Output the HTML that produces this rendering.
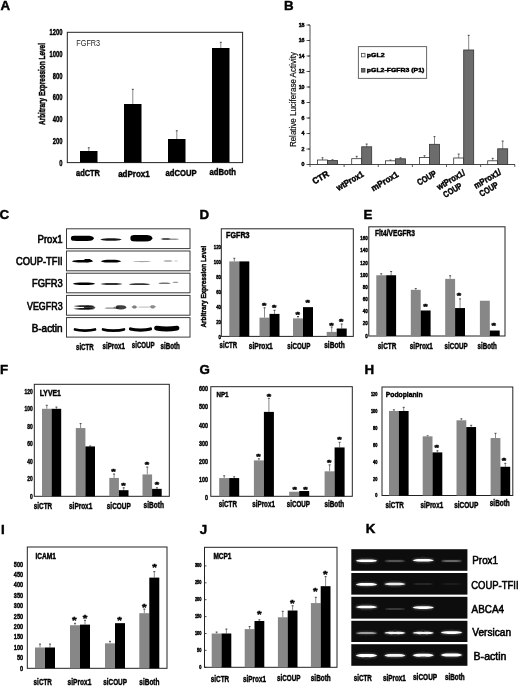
<!DOCTYPE html>
<html><head><meta charset="utf-8"><title>Figure</title>
<style>
html,body{margin:0;padding:0;background:#fff;}
svg{display:block;font-family:"Liberation Sans", sans-serif;}
</style></head>
<body>
<svg width="520" height="690" viewBox="0 0 520 690">
<defs>
<filter id="b1" filterUnits="userSpaceOnUse" x="0" y="0" width="520" height="690"><feGaussianBlur stdDeviation="0.55"/></filter>
<filter id="b2" filterUnits="userSpaceOnUse" x="0" y="0" width="520" height="690"><feGaussianBlur stdDeviation="0.5"/></filter>
<filter id="soft" filterUnits="userSpaceOnUse" x="0" y="0" width="520" height="690"><feGaussianBlur stdDeviation="0.35"/></filter>
<filter id="b3" filterUnits="userSpaceOnUse" x="0" y="0" width="520" height="690"><feGaussianBlur stdDeviation="1.1"/></filter>
</defs>
<rect width="520" height="690" fill="#fff"/>
<g filter="url(#soft)">
<text x="0.40" y="9.60" font-size="13.3" font-weight="bold" stroke="#000" stroke-width="0.45">A</text>
<text x="284.00" y="9.60" font-size="13.3" font-weight="bold" stroke="#000" stroke-width="0.45">B</text>
<text x="-0.60" y="219.20" font-size="13.3" font-weight="bold" stroke="#000" stroke-width="0.45">C</text>
<text x="199.50" y="219.20" font-size="13.3" font-weight="bold" stroke="#000" stroke-width="0.45">D</text>
<text x="363.50" y="219.20" font-size="13.3" font-weight="bold" stroke="#000" stroke-width="0.45">E</text>
<text x="0.00" y="373.80" font-size="13.3" font-weight="bold" stroke="#000" stroke-width="0.45">F</text>
<text x="199.60" y="373.80" font-size="13.3" font-weight="bold" stroke="#000" stroke-width="0.45">G</text>
<text x="364.60" y="373.60" font-size="13.3" font-weight="bold" stroke="#000" stroke-width="0.45">H</text>
<text x="1.00" y="533.70" font-size="13.3" font-weight="bold" stroke="#000" stroke-width="0.45">I</text>
<text x="199.70" y="533.50" font-size="13.3" font-weight="bold" stroke="#000" stroke-width="0.45">J</text>
<text x="365.70" y="533.30" font-size="13.3" font-weight="bold" stroke="#000" stroke-width="0.45">K</text>
<rect x="67.30" y="32.30" width="175.30" height="130.30" fill="none" stroke="#222" stroke-width="1"/>
<text x="62.40" y="165.59" font-size="9.13" font-weight="bold" stroke="#000" stroke-width="0.45" textLength="3.22" lengthAdjust="spacingAndGlyphs" text-anchor="end">0</text>
<text x="62.40" y="143.84" font-size="9.13" font-weight="bold" stroke="#000" stroke-width="0.45" textLength="9.66" lengthAdjust="spacingAndGlyphs" text-anchor="end">200</text>
<text x="62.40" y="122.09" font-size="9.13" font-weight="bold" stroke="#000" stroke-width="0.45" textLength="9.66" lengthAdjust="spacingAndGlyphs" text-anchor="end">400</text>
<text x="62.40" y="100.34" font-size="9.13" font-weight="bold" stroke="#000" stroke-width="0.45" textLength="9.66" lengthAdjust="spacingAndGlyphs" text-anchor="end">600</text>
<text x="62.40" y="78.59" font-size="9.13" font-weight="bold" stroke="#000" stroke-width="0.45" textLength="9.66" lengthAdjust="spacingAndGlyphs" text-anchor="end">800</text>
<text x="62.40" y="56.84" font-size="9.13" font-weight="bold" stroke="#000" stroke-width="0.45" textLength="12.88" lengthAdjust="spacingAndGlyphs" text-anchor="end">1000</text>
<text x="62.40" y="35.09" font-size="9.13" font-weight="bold" stroke="#000" stroke-width="0.45" textLength="12.88" lengthAdjust="spacingAndGlyphs" text-anchor="end">1200</text>
<text x="76.30" y="46.30" font-size="9.68" textLength="23.80" lengthAdjust="spacingAndGlyphs" fill="#222">FGFR3</text>
<text x="44.90" y="84.00" font-size="8.14" font-weight="bold" stroke="#000" stroke-width="0.45" textLength="82.00" lengthAdjust="spacingAndGlyphs" text-anchor="middle" transform="rotate(-90 44.90 84.00)">Arbitrary Expression Level</text>
<rect x="80.00" y="151.00" width="17.50" height="11.50" fill="#000"/>
<line x1="88.80" y1="147.50" x2="88.80" y2="151.00" stroke="#7c7c7c" stroke-width="0.9"/>
<line x1="87.80" y1="147.80" x2="89.80" y2="147.80" stroke="#444" stroke-width="0.9"/>
<rect x="124.00" y="104.00" width="17.50" height="58.50" fill="#000"/>
<line x1="132.80" y1="89.00" x2="132.80" y2="104.00" stroke="#7c7c7c" stroke-width="0.9"/>
<line x1="131.80" y1="89.30" x2="133.80" y2="89.30" stroke="#444" stroke-width="0.9"/>
<rect x="168.00" y="139.00" width="17.50" height="23.50" fill="#000"/>
<line x1="176.80" y1="130.50" x2="176.80" y2="139.00" stroke="#7c7c7c" stroke-width="0.9"/>
<line x1="175.80" y1="130.80" x2="177.80" y2="130.80" stroke="#444" stroke-width="0.9"/>
<rect x="212.00" y="48.00" width="17.50" height="114.50" fill="#000"/>
<line x1="220.80" y1="42.00" x2="220.80" y2="48.00" stroke="#7c7c7c" stroke-width="0.9"/>
<line x1="219.80" y1="42.30" x2="221.80" y2="42.30" stroke="#444" stroke-width="0.9"/>
<text x="76.00" y="176.00" font-size="9.46" font-weight="bold" stroke="#000" stroke-width="0.45" textLength="24.00" lengthAdjust="spacingAndGlyphs">adCTR</text>
<text x="118.20" y="177.00" font-size="9.46" font-weight="bold" stroke="#000" stroke-width="0.45" textLength="31.40" lengthAdjust="spacingAndGlyphs">adProx1</text>
<text x="165.50" y="176.00" font-size="9.46" font-weight="bold" stroke="#000" stroke-width="0.45" textLength="31.00" lengthAdjust="spacingAndGlyphs">adCOUP</text>
<text x="209.50" y="174.50" font-size="9.46" font-weight="bold" stroke="#000" stroke-width="0.45" textLength="26.50" lengthAdjust="spacingAndGlyphs">adBoth</text>
<line x1="310.00" y1="25.00" x2="310.00" y2="164.50" stroke="#4a4a4a" stroke-width="1"/>
<line x1="310.00" y1="164.50" x2="515.00" y2="164.50" stroke="#4a4a4a" stroke-width="1"/>
<line x1="308.00" y1="164.50" x2="310.00" y2="164.50" stroke="#333" stroke-width="0.8"/>
<text x="304.50" y="166.40" font-size="5.28" font-weight="bold" stroke="#000" stroke-width="0.45" text-anchor="end" fill="#222">0</text>
<line x1="306.50" y1="164.50" x2="310.00" y2="164.50" stroke="#333" stroke-width="0.8"/>
<line x1="308.00" y1="149.00" x2="310.00" y2="149.00" stroke="#333" stroke-width="0.8"/>
<text x="304.50" y="150.90" font-size="5.28" font-weight="bold" stroke="#000" stroke-width="0.45" text-anchor="end" fill="#222">2</text>
<line x1="306.50" y1="149.00" x2="310.00" y2="149.00" stroke="#333" stroke-width="0.8"/>
<line x1="308.00" y1="133.50" x2="310.00" y2="133.50" stroke="#333" stroke-width="0.8"/>
<text x="304.50" y="135.40" font-size="5.28" font-weight="bold" stroke="#000" stroke-width="0.45" text-anchor="end" fill="#222">4</text>
<line x1="306.50" y1="133.50" x2="310.00" y2="133.50" stroke="#333" stroke-width="0.8"/>
<line x1="308.00" y1="118.00" x2="310.00" y2="118.00" stroke="#333" stroke-width="0.8"/>
<text x="304.50" y="119.90" font-size="5.28" font-weight="bold" stroke="#000" stroke-width="0.45" text-anchor="end" fill="#222">6</text>
<line x1="306.50" y1="118.00" x2="310.00" y2="118.00" stroke="#333" stroke-width="0.8"/>
<line x1="308.00" y1="102.50" x2="310.00" y2="102.50" stroke="#333" stroke-width="0.8"/>
<text x="304.50" y="104.40" font-size="5.28" font-weight="bold" stroke="#000" stroke-width="0.45" text-anchor="end" fill="#222">8</text>
<line x1="306.50" y1="102.50" x2="310.00" y2="102.50" stroke="#333" stroke-width="0.8"/>
<line x1="308.00" y1="87.00" x2="310.00" y2="87.00" stroke="#333" stroke-width="0.8"/>
<text x="304.50" y="88.90" font-size="5.28" font-weight="bold" stroke="#000" stroke-width="0.45" text-anchor="end" fill="#222">10</text>
<line x1="306.50" y1="87.00" x2="310.00" y2="87.00" stroke="#333" stroke-width="0.8"/>
<line x1="308.00" y1="71.50" x2="310.00" y2="71.50" stroke="#333" stroke-width="0.8"/>
<text x="304.50" y="73.40" font-size="5.28" font-weight="bold" stroke="#000" stroke-width="0.45" text-anchor="end" fill="#222">12</text>
<line x1="306.50" y1="71.50" x2="310.00" y2="71.50" stroke="#333" stroke-width="0.8"/>
<line x1="308.00" y1="56.00" x2="310.00" y2="56.00" stroke="#333" stroke-width="0.8"/>
<text x="304.50" y="57.90" font-size="5.28" font-weight="bold" stroke="#000" stroke-width="0.45" text-anchor="end" fill="#222">14</text>
<line x1="306.50" y1="56.00" x2="310.00" y2="56.00" stroke="#333" stroke-width="0.8"/>
<line x1="308.00" y1="40.50" x2="310.00" y2="40.50" stroke="#333" stroke-width="0.8"/>
<text x="304.50" y="42.40" font-size="5.28" font-weight="bold" stroke="#000" stroke-width="0.45" text-anchor="end" fill="#222">16</text>
<line x1="306.50" y1="40.50" x2="310.00" y2="40.50" stroke="#333" stroke-width="0.8"/>
<line x1="308.00" y1="25.00" x2="310.00" y2="25.00" stroke="#333" stroke-width="0.8"/>
<text x="304.50" y="26.90" font-size="5.28" font-weight="bold" stroke="#000" stroke-width="0.45" text-anchor="end" fill="#222">18</text>
<line x1="306.50" y1="25.00" x2="310.00" y2="25.00" stroke="#333" stroke-width="0.8"/>
<line x1="310.00" y1="164.50" x2="310.00" y2="167.00" stroke="#333" stroke-width="0.8"/>
<line x1="344.13" y1="164.50" x2="344.13" y2="167.00" stroke="#333" stroke-width="0.8"/>
<line x1="378.26" y1="164.50" x2="378.26" y2="167.00" stroke="#333" stroke-width="0.8"/>
<line x1="412.39" y1="164.50" x2="412.39" y2="167.00" stroke="#333" stroke-width="0.8"/>
<line x1="446.52" y1="164.50" x2="446.52" y2="167.00" stroke="#333" stroke-width="0.8"/>
<line x1="480.65" y1="164.50" x2="480.65" y2="167.00" stroke="#333" stroke-width="0.8"/>
<line x1="514.78" y1="164.50" x2="514.78" y2="167.00" stroke="#333" stroke-width="0.8"/>
<text x="295.60" y="99.60" font-size="8.14" textLength="95.00" lengthAdjust="spacingAndGlyphs" text-anchor="middle" transform="rotate(-90 295.60 99.60)" fill="#111" stroke="#111" stroke-width="0.2">Relative Luciferase Activity</text>
<rect x="358.40" y="46.60" width="68.20" height="31.80" fill="#fff" stroke="#666" stroke-width="1"/>
<rect x="361.40" y="53.30" width="3.60" height="3.60" fill="#fff" stroke="#333" stroke-width="0.7"/>
<text x="366.80" y="57.20" font-size="6.16" font-weight="bold" stroke="#000" stroke-width="0.45" textLength="17.80" lengthAdjust="spacingAndGlyphs">pGL2</text>
<rect x="361.40" y="68.50" width="3.60" height="3.60" fill="#6c6c6c" stroke="#333" stroke-width="0.7"/>
<text x="366.80" y="72.40" font-size="6.16" font-weight="bold" stroke="#000" stroke-width="0.45" textLength="57.50" lengthAdjust="spacingAndGlyphs">pGL2-FGFR3 (P1)</text>
<line x1="322.50" y1="157.50" x2="322.50" y2="160.00" stroke="#7c7c7c" stroke-width="0.9"/>
<line x1="321.50" y1="157.80" x2="323.50" y2="157.80" stroke="#444" stroke-width="0.9"/>
<line x1="332.50" y1="159.50" x2="332.50" y2="160.50" stroke="#7c7c7c" stroke-width="0.9"/>
<line x1="331.50" y1="159.80" x2="333.50" y2="159.80" stroke="#444" stroke-width="0.9"/>
<rect x="317.50" y="160.00" width="10.00" height="4.50" fill="#fff" stroke="#333" stroke-width="0.8"/>
<rect x="327.50" y="160.50" width="10.00" height="4.00" fill="#6c6c6c" stroke="#333" stroke-width="0.8"/>
<line x1="356.70" y1="156.00" x2="356.70" y2="158.70" stroke="#7c7c7c" stroke-width="0.9"/>
<line x1="355.70" y1="156.30" x2="357.70" y2="156.30" stroke="#444" stroke-width="0.9"/>
<line x1="366.70" y1="143.80" x2="366.70" y2="146.80" stroke="#7c7c7c" stroke-width="0.9"/>
<line x1="365.70" y1="144.10" x2="367.70" y2="144.10" stroke="#444" stroke-width="0.9"/>
<rect x="351.70" y="158.70" width="10.00" height="5.80" fill="#fff" stroke="#333" stroke-width="0.8"/>
<rect x="361.70" y="146.80" width="10.00" height="17.70" fill="#6c6c6c" stroke="#333" stroke-width="0.8"/>
<line x1="390.50" y1="159.80" x2="390.50" y2="160.80" stroke="#7c7c7c" stroke-width="0.9"/>
<line x1="389.50" y1="160.10" x2="391.50" y2="160.10" stroke="#444" stroke-width="0.9"/>
<line x1="400.50" y1="157.50" x2="400.50" y2="158.80" stroke="#7c7c7c" stroke-width="0.9"/>
<line x1="399.50" y1="157.80" x2="401.50" y2="157.80" stroke="#444" stroke-width="0.9"/>
<rect x="385.50" y="160.80" width="10.00" height="3.70" fill="#fff" stroke="#333" stroke-width="0.8"/>
<rect x="395.50" y="158.80" width="10.00" height="5.70" fill="#6c6c6c" stroke="#333" stroke-width="0.8"/>
<line x1="424.50" y1="155.50" x2="424.50" y2="157.50" stroke="#7c7c7c" stroke-width="0.9"/>
<line x1="423.50" y1="155.80" x2="425.50" y2="155.80" stroke="#444" stroke-width="0.9"/>
<line x1="434.50" y1="136.30" x2="434.50" y2="144.30" stroke="#7c7c7c" stroke-width="0.9"/>
<line x1="433.50" y1="136.60" x2="435.50" y2="136.60" stroke="#444" stroke-width="0.9"/>
<rect x="419.50" y="157.50" width="10.00" height="7.00" fill="#fff" stroke="#333" stroke-width="0.8"/>
<rect x="429.50" y="144.30" width="10.00" height="20.20" fill="#6c6c6c" stroke="#333" stroke-width="0.8"/>
<line x1="458.70" y1="153.80" x2="458.70" y2="158.00" stroke="#7c7c7c" stroke-width="0.9"/>
<line x1="457.70" y1="154.10" x2="459.70" y2="154.10" stroke="#444" stroke-width="0.9"/>
<line x1="468.70" y1="35.00" x2="468.70" y2="50.00" stroke="#7c7c7c" stroke-width="0.9"/>
<line x1="467.70" y1="35.30" x2="469.70" y2="35.30" stroke="#444" stroke-width="0.9"/>
<rect x="453.70" y="158.00" width="10.00" height="6.50" fill="#fff" stroke="#333" stroke-width="0.8"/>
<rect x="463.70" y="50.00" width="10.00" height="114.50" fill="#6c6c6c" stroke="#333" stroke-width="0.8"/>
<line x1="492.70" y1="158.00" x2="492.70" y2="160.80" stroke="#7c7c7c" stroke-width="0.9"/>
<line x1="491.70" y1="158.30" x2="493.70" y2="158.30" stroke="#444" stroke-width="0.9"/>
<line x1="502.70" y1="140.80" x2="502.70" y2="148.80" stroke="#7c7c7c" stroke-width="0.9"/>
<line x1="501.70" y1="141.10" x2="503.70" y2="141.10" stroke="#444" stroke-width="0.9"/>
<rect x="487.70" y="160.80" width="10.00" height="3.70" fill="#fff" stroke="#333" stroke-width="0.8"/>
<rect x="497.70" y="148.80" width="10.00" height="15.70" fill="#6c6c6c" stroke="#333" stroke-width="0.8"/>
<text x="329.60" y="175.60" font-size="8.8" font-weight="bold" stroke="#000" stroke-width="0.45" textLength="17.60" lengthAdjust="spacingAndGlyphs" text-anchor="end" transform="rotate(-30.5 329.60 175.60)">CTR</text>
<text x="364.40" y="175.80" font-size="8.8" font-weight="bold" stroke="#000" stroke-width="0.45" textLength="30.00" lengthAdjust="spacingAndGlyphs" text-anchor="end" transform="rotate(-30.5 364.40 175.80)">wtProx1</text>
<text x="399.20" y="176.20" font-size="8.8" font-weight="bold" stroke="#000" stroke-width="0.45" textLength="30.00" lengthAdjust="spacingAndGlyphs" text-anchor="end" transform="rotate(-30.5 399.20 176.20)">mProx1</text>
<text x="437.30" y="175.20" font-size="8.8" font-weight="bold" stroke="#000" stroke-width="0.45" textLength="21.00" lengthAdjust="spacingAndGlyphs" text-anchor="end" transform="rotate(-30.5 437.30 175.20)">COUP</text>
<text x="465.70" y="174.50" font-size="8.8" font-weight="bold" stroke="#000" stroke-width="0.45" textLength="31.00" lengthAdjust="spacingAndGlyphs" text-anchor="end" transform="rotate(-30.5 465.70 174.50)">wtProx1/</text>
<text x="462.90" y="187.50" font-size="8.8" font-weight="bold" stroke="#000" stroke-width="0.45" textLength="20.50" lengthAdjust="spacingAndGlyphs" text-anchor="end" transform="rotate(-30.5 462.90 187.50)">COUP</text>
<text x="501.90" y="173.70" font-size="8.8" font-weight="bold" stroke="#000" stroke-width="0.45" textLength="30.00" lengthAdjust="spacingAndGlyphs" text-anchor="end" transform="rotate(-30.5 501.90 173.70)">mProx1/</text>
<text x="499.20" y="186.60" font-size="8.8" font-weight="bold" stroke="#000" stroke-width="0.45" textLength="20.50" lengthAdjust="spacingAndGlyphs" text-anchor="end" transform="rotate(-30.5 499.20 186.60)">COUP</text>
<rect x="66.50" y="228.80" width="123.50" height="19.80" fill="#fff" stroke="#3a3a3a" stroke-width="1"/>
<rect x="66.50" y="251.00" width="123.50" height="19.80" fill="#fff" stroke="#3a3a3a" stroke-width="1"/>
<rect x="66.50" y="273.20" width="123.50" height="19.60" fill="#fff" stroke="#3a3a3a" stroke-width="1"/>
<rect x="66.50" y="295.40" width="123.50" height="19.80" fill="#fff" stroke="#3a3a3a" stroke-width="1"/>
<rect x="66.50" y="317.60" width="123.50" height="19.50" fill="#fff" stroke="#3a3a3a" stroke-width="1"/>
<text x="37.50" y="242.50" font-size="10.3" textLength="25.10" lengthAdjust="spacingAndGlyphs" stroke="#000" stroke-width="0.6">Prox1</text>
<text x="16.00" y="264.50" font-size="10.3" textLength="46.60" lengthAdjust="spacingAndGlyphs" stroke="#000" stroke-width="0.6">COUP-TFII</text>
<text x="32.00" y="287.00" font-size="10.3" textLength="30.60" lengthAdjust="spacingAndGlyphs" stroke="#000" stroke-width="0.6">FGFR3</text>
<text x="27.00" y="309.80" font-size="10.3" textLength="35.60" lengthAdjust="spacingAndGlyphs" stroke="#000" stroke-width="0.6">VEGFR3</text>
<text x="31.70" y="332.30" font-size="10.3" textLength="30.90" lengthAdjust="spacingAndGlyphs" stroke="#000" stroke-width="0.6">B-actin</text>
<path d="M70.9 238.3 C70.9 235.7 72.5 235.7 76.1 235.7 L87.9 235.7 C92.1 235.7 93.1 236.7 94.1 238.3 C93.1 239.9 92.1 240.9 87.9 240.9 L76.1 240.9 C72.5 240.9 70.9 240.9 70.9 238.3Z" fill="#000" opacity="1" filter="url(#b1)"/>
<path d="M100.2 239.6 C103.5 238.2 108.0 238.3 111.0 238.3 C114.0 238.3 118.5 238.2 121.8 239.6 C118.5 241.0 114.0 240.8 111.0 240.8 C108.0 240.8 103.5 241.0 100.2 239.6Z" fill="#000" opacity="0.9" filter="url(#b1)"/>
<path d="M130.4 238.2 C130.4 235.1 132.3 235.1 136.6 235.1 L145.4 235.1 C150.4 235.1 151.6 236.3 152.6 238.2 C151.6 240.1 150.4 241.3 145.4 241.3 L136.6 241.3 C132.3 241.3 130.4 241.3 130.4 238.2Z" fill="#000" opacity="1" filter="url(#b1)"/>
<path d="M130.8 240.2 C134.0 238.8 138.0 238.9 141.0 238.9 C144.0 238.9 148.0 238.8 151.2 240.2 C148.0 241.6 144.0 241.4 141.0 241.4 C138.0 241.4 134.0 241.6 130.8 240.2Z" fill="#000" opacity="0.6" filter="url(#b1)"/>
<path d="M160.5 239.0 C163.5 237.8 162.8 238.0 165.8 238.0 C168.8 238.0 168.0 237.8 171.0 239.0 C168.0 240.2 168.8 240.0 165.8 240.0 C162.8 240.0 163.5 240.2 160.5 239.0Z" fill="#000" opacity="0.65" filter="url(#b1)"/>
<path d="M167.3 239.2 C170.0 238.4 170.2 238.5 173.2 238.5 C176.2 238.5 176.5 238.4 179.2 239.2 C176.5 240.0 176.2 239.9 173.2 239.9 C170.2 239.9 170.0 240.0 167.3 239.2Z" fill="#000" opacity="0.4" filter="url(#b1)"/>
<path d="M71.7 261.3 C75.0 259.8 79.5 260.0 82.5 260.0 C85.5 260.0 90.0 259.8 93.3 261.3 C90.0 262.8 85.5 262.6 82.5 262.6 C79.5 262.6 75.0 262.8 71.7 261.3Z" fill="#000" opacity="1" filter="url(#b1)"/>
<path d="M82.4 260.6 C86.0 258.8 84.5 259.0 87.5 259.0 C90.5 259.0 89.0 258.8 92.6 260.6 C89.0 262.4 90.5 262.2 87.5 262.2 C84.5 262.2 86.0 262.4 82.4 260.6Z" fill="#000" opacity="1" filter="url(#b1)"/>
<path d="M100.6 261.2 C104.0 259.6 108.0 259.8 111.0 259.8 C114.0 259.8 118.0 259.6 121.4 261.2 C118.0 262.8 114.0 262.6 111.0 262.6 C108.0 262.6 104.0 262.8 100.6 261.2Z" fill="#000" opacity="1" filter="url(#b1)"/>
<path d="M132.4 261.6 C135.0 261.0 139.0 261.1 142.0 261.1 C145.0 261.1 149.0 261.0 151.6 261.6 C149.0 262.2 145.0 262.2 142.0 262.2 C139.0 262.2 135.0 262.2 132.4 261.6Z" fill="#000" opacity="0.35" filter="url(#b1)"/>
<path d="M163.2 261.0 C166.0 260.1 165.0 260.2 168.0 260.2 C171.0 260.2 170.0 260.1 172.8 261.0 C170.0 261.9 171.0 261.8 168.0 261.8 C165.0 261.8 166.0 261.9 163.2 261.0Z" fill="#000" opacity="0.35" filter="url(#b1)"/>
<path d="M173.5 261.0 C176.0 260.4 173.0 260.5 176.0 260.5 C179.0 260.5 176.0 260.4 178.5 261.0 C176.0 261.6 179.0 261.5 176.0 261.5 C173.0 261.5 176.0 261.6 173.5 261.0Z" fill="#000" opacity="0.2" filter="url(#b1)"/>
<path d="M72.7 283.8 C76.0 282.3 81.0 282.5 84.0 282.5 C87.0 282.5 92.0 282.3 95.3 283.8 C92.0 285.3 87.0 285.1 84.0 285.1 C81.0 285.1 76.0 285.3 72.7 283.8Z" fill="#000" opacity="1" filter="url(#b1)"/>
<path d="M100.5 284.0 C103.5 282.9 108.5 283.1 111.5 283.1 C114.5 283.1 119.5 282.9 122.5 284.0 C119.5 285.1 114.5 284.9 111.5 284.9 C108.5 284.9 103.5 285.1 100.5 284.0Z" fill="#000" opacity="0.8" filter="url(#b1)"/>
<path d="M128.6 284.2 C131.5 283.1 136.5 283.2 139.5 283.2 C142.5 283.2 147.5 283.1 150.4 284.2 C147.5 285.3 142.5 285.1 139.5 285.1 C136.5 285.1 131.5 285.3 128.6 284.2Z" fill="#000" opacity="0.8" filter="url(#b1)"/>
<path d="M158.2 283.4 C161.0 282.5 161.5 282.6 164.5 282.6 C167.5 282.6 168.0 282.5 170.8 283.4 C168.0 284.3 167.5 284.1 164.5 284.1 C161.5 284.1 161.0 284.3 158.2 283.4Z" fill="#000" opacity="0.55" filter="url(#b1)"/>
<path d="M172.3 282.4 C175.0 281.7 172.5 281.8 175.5 281.8 C178.5 281.8 176.0 281.7 178.7 282.4 C176.0 283.1 178.5 283.0 175.5 283.0 C172.5 283.0 175.0 283.1 172.3 282.4Z" fill="#000" opacity="0.4" filter="url(#b1)"/>
<path d="M73.7 306.1 C76.5 305.1 81.2 305.2 84.2 305.2 C87.2 305.2 92.0 305.1 94.8 306.1 C92.0 307.1 87.2 307.0 84.2 307.0 C81.2 307.0 76.5 307.1 73.7 306.1Z" fill="#000" opacity="0.85" filter="url(#b1)"/>
<path d="M73.6 308.8 C76.5 307.8 81.5 307.9 84.5 307.9 C87.5 307.9 92.5 307.8 95.4 308.8 C92.5 309.8 87.5 309.7 84.5 309.7 C81.5 309.7 76.5 309.8 73.6 308.8Z" fill="#000" opacity="0.9" filter="url(#b1)"/>
<path d="M83.4 307.4 C87.0 305.6 86.5 305.8 89.5 305.8 C92.5 305.8 92.0 305.6 95.6 307.4 C92.0 309.2 92.5 309.0 89.5 309.0 C86.5 309.0 87.0 309.2 83.4 307.4Z" fill="#000" opacity="0.75" filter="url(#b1)"/>
<path d="M104.3 308.2 C107.0 307.5 108.0 307.6 111.0 307.6 C114.0 307.6 115.0 307.5 117.7 308.2 C115.0 308.9 114.0 308.8 111.0 308.8 C108.0 308.8 107.0 308.9 104.3 308.2Z" fill="#000" opacity="0.45" filter="url(#b1)"/>
<path d="M115.9 307.3 C115.9 305.2 117.2 305.2 120.1 305.2 L121.4 305.2 C124.8 305.2 125.6 306.0 126.6 307.3 C125.6 308.6 124.8 309.4 121.4 309.4 L120.1 309.4 C117.2 309.4 115.9 309.4 115.9 307.3Z" fill="#000" opacity="0.75" filter="url(#b1)"/>
<path d="M112.8 307.6 C116.0 306.2 113.5 306.4 116.5 306.4 C119.5 306.4 117.0 306.2 120.2 307.6 C117.0 309.0 119.5 308.8 116.5 308.8 C113.5 308.8 116.0 309.0 112.8 307.6Z" fill="#000" opacity="0.35" filter="url(#b1)"/>
<path d="M131.2 307.0 C134.8 305.2 131.4 305.4 134.4 305.4 C137.4 305.4 134.0 305.2 137.6 307.0 C134.0 308.8 137.4 308.6 134.4 308.6 C131.4 308.6 134.8 308.8 131.2 307.0Z" fill="#000" opacity="0.5" filter="url(#b1)"/>
<path d="M137.4 307.2 C140.0 306.5 141.0 306.6 144.0 306.6 C147.0 306.6 148.0 306.5 150.6 307.2 C148.0 307.9 147.0 307.8 144.0 307.8 C141.0 307.8 140.0 307.9 137.4 307.2Z" fill="#000" opacity="0.22" filter="url(#b1)"/>
<path d="M149.2 306.8 C152.8 305.0 149.7 305.2 152.7 305.2 C155.7 305.2 152.6 305.0 156.2 306.8 C152.6 308.6 155.7 308.4 152.7 308.4 C149.7 308.4 152.8 308.6 149.2 306.8Z" fill="#000" opacity="0.45" filter="url(#b1)"/>
<path d="M75.0 329.5 C80.0 330.9 90.0 330.9 95.0 329.5" fill="none" stroke="#000" stroke-width="2.7" stroke-linecap="round" opacity="1" filter="url(#b1)"/>
<path d="M103.0 329.4 C108.0 331.0 119.0 331.0 124.0 329.4" fill="none" stroke="#000" stroke-width="2.6" stroke-linecap="round" opacity="1" filter="url(#b1)"/>
<path d="M130.5 329.0 C135.5 330.4 145.5 330.4 150.5 329.0" fill="none" stroke="#000" stroke-width="3.2" stroke-linecap="round" opacity="1" filter="url(#b1)"/>
<path d="M156.5 328.2 C161.5 329.0 172.0 329.0 177.0 328.2" fill="none" stroke="#000" stroke-width="4.8" stroke-linecap="round" opacity="1" filter="url(#b1)"/>
<text x="76.00" y="349.60" font-size="8.8" font-weight="bold" stroke="#000" stroke-width="0.45" textLength="17.70" lengthAdjust="spacingAndGlyphs">siCTR</text>
<text x="102.50" y="349.40" font-size="8.8" font-weight="bold" stroke="#000" stroke-width="0.45" textLength="22.50" lengthAdjust="spacingAndGlyphs">siProx1</text>
<text x="131.80" y="348.40" font-size="8.8" font-weight="bold" stroke="#000" stroke-width="0.45" textLength="22.80" lengthAdjust="spacingAndGlyphs">siCOUP</text>
<text x="160.50" y="348.80" font-size="8.8" font-weight="bold" stroke="#000" stroke-width="0.45" textLength="19.40" lengthAdjust="spacingAndGlyphs">siBoth</text>
<rect x="221.30" y="228.80" width="132.00" height="107.60" fill="none" stroke="#222" stroke-width="1"/>
<text x="221.00" y="338.58" font-size="6.05" font-weight="bold" stroke="#000" stroke-width="0.45" textLength="2.40" lengthAdjust="spacingAndGlyphs" text-anchor="end">0</text>
<text x="221.00" y="323.58" font-size="6.05" font-weight="bold" stroke="#000" stroke-width="0.45" textLength="4.80" lengthAdjust="spacingAndGlyphs" text-anchor="end">20</text>
<text x="221.00" y="308.58" font-size="6.05" font-weight="bold" stroke="#000" stroke-width="0.45" textLength="4.80" lengthAdjust="spacingAndGlyphs" text-anchor="end">40</text>
<text x="221.00" y="293.58" font-size="6.05" font-weight="bold" stroke="#000" stroke-width="0.45" textLength="4.80" lengthAdjust="spacingAndGlyphs" text-anchor="end">60</text>
<text x="221.00" y="278.58" font-size="6.05" font-weight="bold" stroke="#000" stroke-width="0.45" textLength="4.80" lengthAdjust="spacingAndGlyphs" text-anchor="end">80</text>
<text x="221.00" y="263.58" font-size="6.05" font-weight="bold" stroke="#000" stroke-width="0.45" textLength="7.20" lengthAdjust="spacingAndGlyphs" text-anchor="end">100</text>
<text x="221.00" y="248.58" font-size="6.05" font-weight="bold" stroke="#000" stroke-width="0.45" textLength="7.20" lengthAdjust="spacingAndGlyphs" text-anchor="end">120</text>
<text x="226.00" y="237.60" font-size="8.47" font-weight="bold" stroke="#000" stroke-width="0.45" textLength="23.60" lengthAdjust="spacingAndGlyphs">FGFR3</text>
<line x1="234.30" y1="258.00" x2="234.30" y2="261.40" stroke="#7c7c7c" stroke-width="0.9"/>
<line x1="233.30" y1="258.30" x2="235.30" y2="258.30" stroke="#444" stroke-width="0.9"/>
<rect x="229.30" y="261.40" width="10.00" height="75.00" fill="#878787"/>
<rect x="239.30" y="261.40" width="10.00" height="75.00" fill="#000"/>
<line x1="264.50" y1="307.50" x2="264.50" y2="317.65" stroke="#7c7c7c" stroke-width="0.9"/>
<line x1="263.50" y1="307.80" x2="265.50" y2="307.80" stroke="#444" stroke-width="0.9"/>
<line x1="274.50" y1="310.00" x2="274.50" y2="313.90" stroke="#7c7c7c" stroke-width="0.9"/>
<line x1="273.50" y1="310.30" x2="275.50" y2="310.30" stroke="#444" stroke-width="0.9"/>
<rect x="259.50" y="317.65" width="10.00" height="18.75" fill="#878787"/>
<rect x="269.50" y="313.90" width="10.00" height="22.50" fill="#000"/>
<text x="264.30" y="308.31" font-size="7.7" font-weight="bold" stroke="#000" stroke-width="0.45" textLength="4.40" lengthAdjust="spacingAndGlyphs" text-anchor="middle">*</text>
<text x="274.30" y="310.11" font-size="7.7" font-weight="bold" stroke="#000" stroke-width="0.45" textLength="4.40" lengthAdjust="spacingAndGlyphs" text-anchor="middle">*</text>
<line x1="298.00" y1="316.20" x2="298.00" y2="318.40" stroke="#7c7c7c" stroke-width="0.9"/>
<line x1="297.00" y1="316.50" x2="299.00" y2="316.50" stroke="#444" stroke-width="0.9"/>
<rect x="293.00" y="318.40" width="10.00" height="18.00" fill="#878787"/>
<rect x="303.00" y="307.15" width="10.00" height="29.25" fill="#000"/>
<text x="297.60" y="316.81" font-size="7.7" font-weight="bold" stroke="#000" stroke-width="0.45" textLength="4.40" lengthAdjust="spacingAndGlyphs" text-anchor="middle">*</text>
<text x="307.60" y="304.81" font-size="7.7" font-weight="bold" stroke="#000" stroke-width="0.45" textLength="4.40" lengthAdjust="spacingAndGlyphs" text-anchor="middle">*</text>
<line x1="331.70" y1="326.70" x2="331.70" y2="331.90" stroke="#7c7c7c" stroke-width="0.9"/>
<line x1="330.70" y1="327.00" x2="332.70" y2="327.00" stroke="#444" stroke-width="0.9"/>
<line x1="341.70" y1="323.80" x2="341.70" y2="328.52" stroke="#7c7c7c" stroke-width="0.9"/>
<line x1="340.70" y1="324.10" x2="342.70" y2="324.10" stroke="#444" stroke-width="0.9"/>
<rect x="326.70" y="331.90" width="10.00" height="4.50" fill="#878787"/>
<rect x="336.70" y="328.52" width="10.00" height="7.88" fill="#000"/>
<text x="331.50" y="327.61" font-size="7.7" font-weight="bold" stroke="#000" stroke-width="0.45" textLength="4.40" lengthAdjust="spacingAndGlyphs" text-anchor="middle">*</text>
<text x="341.20" y="324.31" font-size="7.7" font-weight="bold" stroke="#000" stroke-width="0.45" textLength="4.40" lengthAdjust="spacingAndGlyphs" text-anchor="middle">*</text>
<text x="219.60" y="348.30" font-size="8.91" font-weight="bold" stroke="#000" stroke-width="0.45" textLength="17.60" lengthAdjust="spacingAndGlyphs">siCTR</text>
<text x="248.80" y="348.50" font-size="8.91" font-weight="bold" stroke="#000" stroke-width="0.45" textLength="24.00" lengthAdjust="spacingAndGlyphs">siProx1</text>
<text x="287.30" y="348.50" font-size="8.91" font-weight="bold" stroke="#000" stroke-width="0.45" textLength="23.10" lengthAdjust="spacingAndGlyphs">siCOUP</text>
<text x="324.20" y="348.30" font-size="8.91" font-weight="bold" stroke="#000" stroke-width="0.45" textLength="20.60" lengthAdjust="spacingAndGlyphs">siBoth</text>
<text x="205.90" y="286.60" font-size="7.7" font-weight="bold" stroke="#000" stroke-width="0.45" textLength="82.00" lengthAdjust="spacingAndGlyphs" text-anchor="middle" transform="rotate(-90 205.90 286.60)">Arbitrary Expression Level</text>
<rect x="368.80" y="226.80" width="136.20" height="109.20" fill="none" stroke="#222" stroke-width="1"/>
<text x="367.80" y="337.52" font-size="6.16" font-weight="bold" stroke="#000" stroke-width="0.45" textLength="2.50" lengthAdjust="spacingAndGlyphs" text-anchor="end">0</text>
<text x="367.80" y="325.37" font-size="6.16" font-weight="bold" stroke="#000" stroke-width="0.45" textLength="5.00" lengthAdjust="spacingAndGlyphs" text-anchor="end">20</text>
<text x="367.80" y="313.22" font-size="6.16" font-weight="bold" stroke="#000" stroke-width="0.45" textLength="5.00" lengthAdjust="spacingAndGlyphs" text-anchor="end">40</text>
<text x="367.80" y="301.07" font-size="6.16" font-weight="bold" stroke="#000" stroke-width="0.45" textLength="5.00" lengthAdjust="spacingAndGlyphs" text-anchor="end">60</text>
<text x="367.80" y="288.92" font-size="6.16" font-weight="bold" stroke="#000" stroke-width="0.45" textLength="5.00" lengthAdjust="spacingAndGlyphs" text-anchor="end">80</text>
<text x="367.80" y="276.77" font-size="6.16" font-weight="bold" stroke="#000" stroke-width="0.45" textLength="7.50" lengthAdjust="spacingAndGlyphs" text-anchor="end">100</text>
<text x="367.80" y="264.62" font-size="6.16" font-weight="bold" stroke="#000" stroke-width="0.45" textLength="7.50" lengthAdjust="spacingAndGlyphs" text-anchor="end">120</text>
<text x="367.80" y="252.47" font-size="6.16" font-weight="bold" stroke="#000" stroke-width="0.45" textLength="7.50" lengthAdjust="spacingAndGlyphs" text-anchor="end">140</text>
<text x="367.80" y="240.32" font-size="6.16" font-weight="bold" stroke="#000" stroke-width="0.45" textLength="7.50" lengthAdjust="spacingAndGlyphs" text-anchor="end">160</text>
<text x="375.00" y="236.30" font-size="8.36" font-weight="bold" stroke="#000" stroke-width="0.45" textLength="40.00" lengthAdjust="spacingAndGlyphs">Flt4/VEGFR3</text>
<line x1="381.25" y1="273.50" x2="381.25" y2="275.25" stroke="#7c7c7c" stroke-width="0.9"/>
<line x1="380.25" y1="273.80" x2="382.25" y2="273.80" stroke="#444" stroke-width="0.9"/>
<line x1="391.15" y1="271.20" x2="391.15" y2="275.25" stroke="#7c7c7c" stroke-width="0.9"/>
<line x1="390.15" y1="271.50" x2="392.15" y2="271.50" stroke="#444" stroke-width="0.9"/>
<rect x="376.30" y="275.25" width="9.90" height="60.75" fill="#878787"/>
<rect x="386.20" y="275.25" width="9.90" height="60.75" fill="#000"/>
<line x1="415.75" y1="288.30" x2="415.75" y2="289.83" stroke="#7c7c7c" stroke-width="0.9"/>
<line x1="414.75" y1="288.60" x2="416.75" y2="288.60" stroke="#444" stroke-width="0.9"/>
<rect x="410.80" y="289.83" width="9.90" height="46.17" fill="#878787"/>
<rect x="420.70" y="310.49" width="9.90" height="25.51" fill="#000"/>
<text x="425.50" y="308.61" font-size="7.7" font-weight="bold" stroke="#000" stroke-width="0.45" textLength="4.40" lengthAdjust="spacingAndGlyphs" text-anchor="middle">*</text>
<line x1="450.15" y1="275.50" x2="450.15" y2="278.89" stroke="#7c7c7c" stroke-width="0.9"/>
<line x1="449.15" y1="275.80" x2="451.15" y2="275.80" stroke="#444" stroke-width="0.9"/>
<line x1="460.05" y1="298.60" x2="460.05" y2="308.06" stroke="#7c7c7c" stroke-width="0.9"/>
<line x1="459.05" y1="298.90" x2="461.05" y2="298.90" stroke="#444" stroke-width="0.9"/>
<rect x="445.20" y="278.89" width="9.90" height="57.11" fill="#878787"/>
<rect x="455.10" y="308.06" width="9.90" height="27.94" fill="#000"/>
<text x="459.00" y="298.11" font-size="7.7" font-weight="bold" stroke="#000" stroke-width="0.45" textLength="4.40" lengthAdjust="spacingAndGlyphs" text-anchor="middle">*</text>
<rect x="479.90" y="300.76" width="9.90" height="35.24" fill="#878787"/>
<rect x="489.80" y="330.53" width="9.90" height="5.47" fill="#000"/>
<text x="493.70" y="328.31" font-size="7.7" font-weight="bold" stroke="#000" stroke-width="0.45" textLength="4.40" lengthAdjust="spacingAndGlyphs" text-anchor="middle">*</text>
<text x="377.80" y="348.80" font-size="8.8" font-weight="bold" stroke="#000" stroke-width="0.45" textLength="18.50" lengthAdjust="spacingAndGlyphs">siCTR</text>
<text x="409.80" y="348.80" font-size="8.8" font-weight="bold" stroke="#000" stroke-width="0.45" textLength="23.10" lengthAdjust="spacingAndGlyphs">siProx1</text>
<text x="444.60" y="348.80" font-size="8.8" font-weight="bold" stroke="#000" stroke-width="0.45" textLength="23.10" lengthAdjust="spacingAndGlyphs">siCOUP</text>
<text x="477.50" y="348.80" font-size="8.8" font-weight="bold" stroke="#000" stroke-width="0.45" textLength="19.40" lengthAdjust="spacingAndGlyphs">siBoth</text>
<rect x="34.30" y="384.30" width="135.00" height="112.00" fill="none" stroke="#222" stroke-width="1"/>
<text x="32.70" y="498.87" font-size="7.15" font-weight="bold" stroke="#000" stroke-width="0.45" textLength="2.75" lengthAdjust="spacingAndGlyphs" text-anchor="end">0</text>
<text x="32.70" y="481.37" font-size="7.15" font-weight="bold" stroke="#000" stroke-width="0.45" textLength="5.50" lengthAdjust="spacingAndGlyphs" text-anchor="end">20</text>
<text x="32.70" y="463.87" font-size="7.15" font-weight="bold" stroke="#000" stroke-width="0.45" textLength="5.50" lengthAdjust="spacingAndGlyphs" text-anchor="end">40</text>
<text x="32.70" y="446.37" font-size="7.15" font-weight="bold" stroke="#000" stroke-width="0.45" textLength="5.50" lengthAdjust="spacingAndGlyphs" text-anchor="end">60</text>
<text x="32.70" y="428.87" font-size="7.15" font-weight="bold" stroke="#000" stroke-width="0.45" textLength="5.50" lengthAdjust="spacingAndGlyphs" text-anchor="end">80</text>
<text x="32.70" y="411.37" font-size="7.15" font-weight="bold" stroke="#000" stroke-width="0.45" textLength="8.25" lengthAdjust="spacingAndGlyphs" text-anchor="end">100</text>
<text x="32.70" y="393.87" font-size="7.15" font-weight="bold" stroke="#000" stroke-width="0.45" textLength="8.25" lengthAdjust="spacingAndGlyphs" text-anchor="end">120</text>
<text x="39.80" y="396.40" font-size="8.14" font-weight="bold" stroke="#000" stroke-width="0.45" textLength="21.00" lengthAdjust="spacingAndGlyphs">LYVE1</text>
<line x1="46.80" y1="405.00" x2="46.80" y2="408.80" stroke="#7c7c7c" stroke-width="0.9"/>
<line x1="45.80" y1="405.30" x2="47.80" y2="405.30" stroke="#444" stroke-width="0.9"/>
<line x1="56.40" y1="406.80" x2="56.40" y2="408.80" stroke="#7c7c7c" stroke-width="0.9"/>
<line x1="55.40" y1="407.10" x2="57.40" y2="407.10" stroke="#444" stroke-width="0.9"/>
<rect x="42.00" y="408.80" width="9.60" height="87.50" fill="#878787"/>
<rect x="51.60" y="408.80" width="9.60" height="87.50" fill="#000"/>
<line x1="80.60" y1="423.30" x2="80.60" y2="428.05" stroke="#7c7c7c" stroke-width="0.9"/>
<line x1="79.60" y1="423.60" x2="81.60" y2="423.60" stroke="#444" stroke-width="0.9"/>
<line x1="90.20" y1="445.70" x2="90.20" y2="446.43" stroke="#7c7c7c" stroke-width="0.9"/>
<line x1="89.20" y1="446.00" x2="91.20" y2="446.00" stroke="#444" stroke-width="0.9"/>
<rect x="75.80" y="428.05" width="9.60" height="68.25" fill="#878787"/>
<rect x="85.40" y="446.43" width="9.60" height="49.88" fill="#000"/>
<line x1="114.10" y1="473.80" x2="114.10" y2="477.93" stroke="#7c7c7c" stroke-width="0.9"/>
<line x1="113.10" y1="474.10" x2="115.10" y2="474.10" stroke="#444" stroke-width="0.9"/>
<line x1="123.70" y1="487.50" x2="123.70" y2="490.18" stroke="#7c7c7c" stroke-width="0.9"/>
<line x1="122.70" y1="487.80" x2="124.70" y2="487.80" stroke="#444" stroke-width="0.9"/>
<rect x="109.30" y="477.93" width="9.60" height="18.38" fill="#878787"/>
<rect x="118.90" y="490.18" width="9.60" height="6.12" fill="#000"/>
<text x="113.50" y="474.31" font-size="7.7" font-weight="bold" stroke="#000" stroke-width="0.45" textLength="4.40" lengthAdjust="spacingAndGlyphs" text-anchor="middle">*</text>
<text x="123.50" y="488.11" font-size="7.7" font-weight="bold" stroke="#000" stroke-width="0.45" textLength="4.40" lengthAdjust="spacingAndGlyphs" text-anchor="middle">*</text>
<line x1="147.30" y1="466.80" x2="147.30" y2="474.43" stroke="#7c7c7c" stroke-width="0.9"/>
<line x1="146.30" y1="467.10" x2="148.30" y2="467.10" stroke="#444" stroke-width="0.9"/>
<line x1="156.90" y1="487.50" x2="156.90" y2="488.86" stroke="#7c7c7c" stroke-width="0.9"/>
<line x1="155.90" y1="487.80" x2="157.90" y2="487.80" stroke="#444" stroke-width="0.9"/>
<rect x="142.50" y="474.43" width="9.60" height="21.88" fill="#878787"/>
<rect x="152.10" y="488.86" width="9.60" height="7.44" fill="#000"/>
<text x="147.00" y="467.31" font-size="7.7" font-weight="bold" stroke="#000" stroke-width="0.45" textLength="4.40" lengthAdjust="spacingAndGlyphs" text-anchor="middle">*</text>
<text x="157.00" y="486.81" font-size="7.7" font-weight="bold" stroke="#000" stroke-width="0.45" textLength="4.40" lengthAdjust="spacingAndGlyphs" text-anchor="middle">*</text>
<text x="33.80" y="509.30" font-size="8.91" font-weight="bold" stroke="#000" stroke-width="0.45" textLength="18.40" lengthAdjust="spacingAndGlyphs">siCTR</text>
<text x="69.00" y="509.30" font-size="8.91" font-weight="bold" stroke="#000" stroke-width="0.45" textLength="23.30" lengthAdjust="spacingAndGlyphs">siProx1</text>
<text x="106.80" y="508.60" font-size="8.91" font-weight="bold" stroke="#000" stroke-width="0.45" textLength="23.90" lengthAdjust="spacingAndGlyphs">siCOUP</text>
<text x="143.60" y="508.40" font-size="8.91" font-weight="bold" stroke="#000" stroke-width="0.45" textLength="20.40" lengthAdjust="spacingAndGlyphs">siBoth</text>
<rect x="210.80" y="386.70" width="141.50" height="109.60" fill="none" stroke="#222" stroke-width="1"/>
<text x="208.00" y="500.45" font-size="7.92" font-weight="bold" stroke="#000" stroke-width="0.45" textLength="3.00" lengthAdjust="spacingAndGlyphs" text-anchor="end">0</text>
<text x="208.00" y="482.22" font-size="7.92" font-weight="bold" stroke="#000" stroke-width="0.45" textLength="9.00" lengthAdjust="spacingAndGlyphs" text-anchor="end">100</text>
<text x="208.00" y="463.99" font-size="7.92" font-weight="bold" stroke="#000" stroke-width="0.45" textLength="9.00" lengthAdjust="spacingAndGlyphs" text-anchor="end">200</text>
<text x="208.00" y="445.76" font-size="7.92" font-weight="bold" stroke="#000" stroke-width="0.45" textLength="9.00" lengthAdjust="spacingAndGlyphs" text-anchor="end">300</text>
<text x="208.00" y="427.53" font-size="7.92" font-weight="bold" stroke="#000" stroke-width="0.45" textLength="9.00" lengthAdjust="spacingAndGlyphs" text-anchor="end">400</text>
<text x="208.00" y="409.30" font-size="7.92" font-weight="bold" stroke="#000" stroke-width="0.45" textLength="9.00" lengthAdjust="spacingAndGlyphs" text-anchor="end">500</text>
<text x="208.00" y="391.07" font-size="7.92" font-weight="bold" stroke="#000" stroke-width="0.45" textLength="9.00" lengthAdjust="spacingAndGlyphs" text-anchor="end">600</text>
<text x="216.40" y="397.00" font-size="7.81" font-weight="bold" stroke="#000" stroke-width="0.45" textLength="12.20" lengthAdjust="spacingAndGlyphs">NP1</text>
<line x1="224.20" y1="475.50" x2="224.20" y2="478.07" stroke="#7c7c7c" stroke-width="0.9"/>
<line x1="223.20" y1="475.80" x2="225.20" y2="475.80" stroke="#444" stroke-width="0.9"/>
<line x1="234.20" y1="476.50" x2="234.20" y2="478.07" stroke="#7c7c7c" stroke-width="0.9"/>
<line x1="233.20" y1="476.80" x2="235.20" y2="476.80" stroke="#444" stroke-width="0.9"/>
<rect x="219.20" y="478.07" width="10.00" height="18.23" fill="#878787"/>
<rect x="229.20" y="478.07" width="10.00" height="18.23" fill="#000"/>
<line x1="258.90" y1="458.50" x2="258.90" y2="460.39" stroke="#7c7c7c" stroke-width="0.9"/>
<line x1="257.90" y1="458.80" x2="259.90" y2="458.80" stroke="#444" stroke-width="0.9"/>
<line x1="268.90" y1="398.00" x2="268.90" y2="411.90" stroke="#7c7c7c" stroke-width="0.9"/>
<line x1="267.90" y1="398.30" x2="269.90" y2="398.30" stroke="#444" stroke-width="0.9"/>
<rect x="253.90" y="460.39" width="10.00" height="35.91" fill="#878787"/>
<rect x="263.90" y="411.90" width="10.00" height="84.40" fill="#000"/>
<text x="258.50" y="459.31" font-size="7.7" font-weight="bold" stroke="#000" stroke-width="0.45" textLength="4.40" lengthAdjust="spacingAndGlyphs" text-anchor="middle">*</text>
<text x="269.00" y="398.51" font-size="7.7" font-weight="bold" stroke="#000" stroke-width="0.45" textLength="4.40" lengthAdjust="spacingAndGlyphs" text-anchor="middle">*</text>
<rect x="289.20" y="491.74" width="10.00" height="4.56" fill="#878787"/>
<rect x="299.20" y="491.01" width="10.00" height="5.29" fill="#000"/>
<text x="294.80" y="492.01" font-size="7.7" font-weight="bold" stroke="#000" stroke-width="0.45" textLength="4.40" lengthAdjust="spacingAndGlyphs" text-anchor="middle">*</text>
<text x="305.50" y="492.01" font-size="7.7" font-weight="bold" stroke="#000" stroke-width="0.45" textLength="4.40" lengthAdjust="spacingAndGlyphs" text-anchor="middle">*</text>
<line x1="329.60" y1="464.60" x2="329.60" y2="471.32" stroke="#7c7c7c" stroke-width="0.9"/>
<line x1="328.60" y1="464.90" x2="330.60" y2="464.90" stroke="#444" stroke-width="0.9"/>
<line x1="339.60" y1="442.00" x2="339.60" y2="447.44" stroke="#7c7c7c" stroke-width="0.9"/>
<line x1="338.60" y1="442.30" x2="340.60" y2="442.30" stroke="#444" stroke-width="0.9"/>
<rect x="324.60" y="471.32" width="10.00" height="24.98" fill="#878787"/>
<rect x="334.60" y="447.44" width="10.00" height="48.86" fill="#000"/>
<text x="329.20" y="465.31" font-size="7.7" font-weight="bold" stroke="#000" stroke-width="0.45" textLength="4.40" lengthAdjust="spacingAndGlyphs" text-anchor="middle">*</text>
<text x="339.40" y="442.31" font-size="7.7" font-weight="bold" stroke="#000" stroke-width="0.45" textLength="4.40" lengthAdjust="spacingAndGlyphs" text-anchor="middle">*</text>
<text x="218.80" y="507.20" font-size="8.69" font-weight="bold" stroke="#000" stroke-width="0.45" textLength="18.20" lengthAdjust="spacingAndGlyphs">siCTR</text>
<text x="252.20" y="507.20" font-size="8.69" font-weight="bold" stroke="#000" stroke-width="0.45" textLength="22.80" lengthAdjust="spacingAndGlyphs">siProx1</text>
<text x="286.80" y="507.20" font-size="8.69" font-weight="bold" stroke="#000" stroke-width="0.45" textLength="23.20" lengthAdjust="spacingAndGlyphs">siCOUP</text>
<text x="324.40" y="507.20" font-size="8.69" font-weight="bold" stroke="#000" stroke-width="0.45" textLength="19.80" lengthAdjust="spacingAndGlyphs">siBoth</text>
<rect x="382.00" y="387.00" width="130.80" height="108.50" fill="none" stroke="#222" stroke-width="1"/>
<text x="377.50" y="497.40" font-size="5.28" font-weight="bold" stroke="#000" stroke-width="0.45" textLength="2.20" lengthAdjust="spacingAndGlyphs" text-anchor="end">0</text>
<text x="377.50" y="480.50" font-size="5.28" font-weight="bold" stroke="#000" stroke-width="0.45" textLength="4.40" lengthAdjust="spacingAndGlyphs" text-anchor="end">20</text>
<text x="377.50" y="463.60" font-size="5.28" font-weight="bold" stroke="#000" stroke-width="0.45" textLength="4.40" lengthAdjust="spacingAndGlyphs" text-anchor="end">40</text>
<text x="377.50" y="446.70" font-size="5.28" font-weight="bold" stroke="#000" stroke-width="0.45" textLength="4.40" lengthAdjust="spacingAndGlyphs" text-anchor="end">60</text>
<text x="377.50" y="429.80" font-size="5.28" font-weight="bold" stroke="#000" stroke-width="0.45" textLength="4.40" lengthAdjust="spacingAndGlyphs" text-anchor="end">80</text>
<text x="377.50" y="412.90" font-size="5.28" font-weight="bold" stroke="#000" stroke-width="0.45" textLength="6.60" lengthAdjust="spacingAndGlyphs" text-anchor="end">100</text>
<text x="377.50" y="396.00" font-size="5.28" font-weight="bold" stroke="#000" stroke-width="0.45" textLength="6.60" lengthAdjust="spacingAndGlyphs" text-anchor="end">120</text>
<text x="385.80" y="397.00" font-size="7.37" font-weight="bold" stroke="#000" stroke-width="0.45" textLength="36.80" lengthAdjust="spacingAndGlyphs">Podoplanin</text>
<line x1="393.90" y1="409.50" x2="393.90" y2="411.00" stroke="#7c7c7c" stroke-width="0.9"/>
<line x1="392.90" y1="409.80" x2="394.90" y2="409.80" stroke="#444" stroke-width="0.9"/>
<line x1="403.70" y1="407.00" x2="403.70" y2="411.00" stroke="#7c7c7c" stroke-width="0.9"/>
<line x1="402.70" y1="407.30" x2="404.70" y2="407.30" stroke="#444" stroke-width="0.9"/>
<rect x="389.00" y="411.00" width="9.80" height="84.50" fill="#878787"/>
<rect x="398.80" y="411.00" width="9.80" height="84.50" fill="#000"/>
<line x1="427.60" y1="435.50" x2="427.60" y2="436.35" stroke="#7c7c7c" stroke-width="0.9"/>
<line x1="426.60" y1="435.80" x2="428.60" y2="435.80" stroke="#444" stroke-width="0.9"/>
<line x1="437.40" y1="450.50" x2="437.40" y2="452.40" stroke="#7c7c7c" stroke-width="0.9"/>
<line x1="436.40" y1="450.80" x2="438.40" y2="450.80" stroke="#444" stroke-width="0.9"/>
<rect x="422.70" y="436.35" width="9.80" height="59.15" fill="#878787"/>
<rect x="432.50" y="452.40" width="9.80" height="43.10" fill="#000"/>
<text x="436.60" y="450.31" font-size="7.7" font-weight="bold" stroke="#000" stroke-width="0.45" textLength="4.40" lengthAdjust="spacingAndGlyphs" text-anchor="middle">*</text>
<line x1="461.40" y1="418.50" x2="461.40" y2="420.30" stroke="#7c7c7c" stroke-width="0.9"/>
<line x1="460.40" y1="418.80" x2="462.40" y2="418.80" stroke="#444" stroke-width="0.9"/>
<line x1="471.20" y1="425.00" x2="471.20" y2="427.06" stroke="#7c7c7c" stroke-width="0.9"/>
<line x1="470.20" y1="425.30" x2="472.20" y2="425.30" stroke="#444" stroke-width="0.9"/>
<rect x="456.50" y="420.30" width="9.80" height="75.20" fill="#878787"/>
<rect x="466.30" y="427.06" width="9.80" height="68.44" fill="#000"/>
<line x1="495.50" y1="433.00" x2="495.50" y2="438.04" stroke="#7c7c7c" stroke-width="0.9"/>
<line x1="494.50" y1="433.30" x2="496.50" y2="433.30" stroke="#444" stroke-width="0.9"/>
<line x1="505.30" y1="463.00" x2="505.30" y2="466.77" stroke="#7c7c7c" stroke-width="0.9"/>
<line x1="504.30" y1="463.30" x2="506.30" y2="463.30" stroke="#444" stroke-width="0.9"/>
<rect x="490.60" y="438.04" width="9.80" height="57.46" fill="#878787"/>
<rect x="500.40" y="466.77" width="9.80" height="28.73" fill="#000"/>
<text x="504.00" y="463.31" font-size="7.7" font-weight="bold" stroke="#000" stroke-width="0.45" textLength="4.40" lengthAdjust="spacingAndGlyphs" text-anchor="middle">*</text>
<text x="385.60" y="507.80" font-size="8.69" font-weight="bold" stroke="#000" stroke-width="0.45" textLength="18.20" lengthAdjust="spacingAndGlyphs">siCTR</text>
<text x="420.50" y="508.20" font-size="8.69" font-weight="bold" stroke="#000" stroke-width="0.45" textLength="22.70" lengthAdjust="spacingAndGlyphs">siProx1</text>
<text x="454.20" y="508.20" font-size="8.69" font-weight="bold" stroke="#000" stroke-width="0.45" textLength="24.20" lengthAdjust="spacingAndGlyphs">siCOUP</text>
<text x="489.80" y="506.40" font-size="8.69" font-weight="bold" stroke="#000" stroke-width="0.45" textLength="20.00" lengthAdjust="spacingAndGlyphs">siBoth</text>
<rect x="27.30" y="547.00" width="139.70" height="121.30" fill="none" stroke="#222" stroke-width="1"/>
<text x="23.10" y="670.65" font-size="7.92" font-weight="bold" stroke="#000" stroke-width="0.45" textLength="3.10" lengthAdjust="spacingAndGlyphs" text-anchor="end">0</text>
<text x="23.10" y="660.25" font-size="7.92" font-weight="bold" stroke="#000" stroke-width="0.45" textLength="6.20" lengthAdjust="spacingAndGlyphs" text-anchor="end">50</text>
<text x="23.10" y="649.85" font-size="7.92" font-weight="bold" stroke="#000" stroke-width="0.45" textLength="9.30" lengthAdjust="spacingAndGlyphs" text-anchor="end">100</text>
<text x="23.10" y="639.45" font-size="7.92" font-weight="bold" stroke="#000" stroke-width="0.45" textLength="9.30" lengthAdjust="spacingAndGlyphs" text-anchor="end">150</text>
<text x="23.10" y="629.05" font-size="7.92" font-weight="bold" stroke="#000" stroke-width="0.45" textLength="9.30" lengthAdjust="spacingAndGlyphs" text-anchor="end">200</text>
<text x="23.10" y="618.65" font-size="7.92" font-weight="bold" stroke="#000" stroke-width="0.45" textLength="9.30" lengthAdjust="spacingAndGlyphs" text-anchor="end">250</text>
<text x="23.10" y="608.25" font-size="7.92" font-weight="bold" stroke="#000" stroke-width="0.45" textLength="9.30" lengthAdjust="spacingAndGlyphs" text-anchor="end">300</text>
<text x="23.10" y="597.85" font-size="7.92" font-weight="bold" stroke="#000" stroke-width="0.45" textLength="9.30" lengthAdjust="spacingAndGlyphs" text-anchor="end">350</text>
<text x="23.10" y="587.45" font-size="7.92" font-weight="bold" stroke="#000" stroke-width="0.45" textLength="9.30" lengthAdjust="spacingAndGlyphs" text-anchor="end">400</text>
<text x="23.10" y="577.05" font-size="7.92" font-weight="bold" stroke="#000" stroke-width="0.45" textLength="9.30" lengthAdjust="spacingAndGlyphs" text-anchor="end">450</text>
<text x="23.10" y="566.65" font-size="7.92" font-weight="bold" stroke="#000" stroke-width="0.45" textLength="9.30" lengthAdjust="spacingAndGlyphs" text-anchor="end">500</text>
<text x="35.40" y="559.20" font-size="8.25" font-weight="bold" stroke="#000" stroke-width="0.45" textLength="20.50" lengthAdjust="spacingAndGlyphs">ICAM1</text>
<line x1="40.00" y1="643.80" x2="40.00" y2="647.50" stroke="#7c7c7c" stroke-width="0.9"/>
<line x1="39.00" y1="644.10" x2="41.00" y2="644.10" stroke="#444" stroke-width="0.9"/>
<line x1="50.00" y1="643.80" x2="50.00" y2="647.50" stroke="#7c7c7c" stroke-width="0.9"/>
<line x1="49.00" y1="644.10" x2="51.00" y2="644.10" stroke="#444" stroke-width="0.9"/>
<rect x="35.00" y="647.50" width="10.00" height="20.80" fill="#878787"/>
<rect x="45.00" y="647.50" width="10.00" height="20.80" fill="#000"/>
<line x1="75.00" y1="623.00" x2="75.00" y2="625.24" stroke="#7c7c7c" stroke-width="0.9"/>
<line x1="74.00" y1="623.30" x2="76.00" y2="623.30" stroke="#444" stroke-width="0.9"/>
<line x1="85.00" y1="620.00" x2="85.00" y2="624.62" stroke="#7c7c7c" stroke-width="0.9"/>
<line x1="84.00" y1="620.30" x2="86.00" y2="620.30" stroke="#444" stroke-width="0.9"/>
<rect x="70.00" y="625.24" width="10.00" height="43.06" fill="#878787"/>
<rect x="80.00" y="624.62" width="10.00" height="43.68" fill="#000"/>
<text x="74.30" y="622.80" font-size="9.46" font-weight="bold" stroke="#000" stroke-width="0.45" textLength="4.60" lengthAdjust="spacingAndGlyphs" text-anchor="middle">*</text>
<text x="85.00" y="620.80" font-size="9.46" font-weight="bold" stroke="#000" stroke-width="0.45" textLength="4.60" lengthAdjust="spacingAndGlyphs" text-anchor="middle">*</text>
<line x1="110.00" y1="641.00" x2="110.00" y2="643.34" stroke="#7c7c7c" stroke-width="0.9"/>
<line x1="109.00" y1="641.30" x2="111.00" y2="641.30" stroke="#444" stroke-width="0.9"/>
<rect x="105.00" y="643.34" width="10.00" height="24.96" fill="#878787"/>
<rect x="115.00" y="623.16" width="10.00" height="45.14" fill="#000"/>
<text x="119.50" y="622.80" font-size="9.46" font-weight="bold" stroke="#000" stroke-width="0.45" textLength="4.60" lengthAdjust="spacingAndGlyphs" text-anchor="middle">*</text>
<line x1="144.30" y1="608.80" x2="144.30" y2="613.18" stroke="#7c7c7c" stroke-width="0.9"/>
<line x1="143.30" y1="609.10" x2="145.30" y2="609.10" stroke="#444" stroke-width="0.9"/>
<line x1="154.30" y1="571.30" x2="154.30" y2="577.61" stroke="#7c7c7c" stroke-width="0.9"/>
<line x1="153.30" y1="571.60" x2="155.30" y2="571.60" stroke="#444" stroke-width="0.9"/>
<rect x="139.30" y="613.18" width="10.00" height="55.12" fill="#878787"/>
<rect x="149.30" y="577.61" width="10.00" height="90.69" fill="#000"/>
<text x="144.30" y="610.30" font-size="9.46" font-weight="bold" stroke="#000" stroke-width="0.45" textLength="4.60" lengthAdjust="spacingAndGlyphs" text-anchor="middle">*</text>
<text x="154.50" y="570.30" font-size="9.46" font-weight="bold" stroke="#000" stroke-width="0.45" textLength="4.60" lengthAdjust="spacingAndGlyphs" text-anchor="middle">*</text>
<text x="33.60" y="685.00" font-size="9.24" font-weight="bold" stroke="#000" stroke-width="0.45" textLength="18.30" lengthAdjust="spacingAndGlyphs">siCTR</text>
<text x="67.50" y="685.00" font-size="9.24" font-weight="bold" stroke="#000" stroke-width="0.45" textLength="23.80" lengthAdjust="spacingAndGlyphs">siProx1</text>
<text x="103.20" y="685.00" font-size="9.24" font-weight="bold" stroke="#000" stroke-width="0.45" textLength="23.80" lengthAdjust="spacingAndGlyphs">siCOUP</text>
<text x="139.30" y="685.00" font-size="9.24" font-weight="bold" stroke="#000" stroke-width="0.45" textLength="20.20" lengthAdjust="spacingAndGlyphs">siBoth</text>
<rect x="204.50" y="547.30" width="132.50" height="120.00" fill="none" stroke="#222" stroke-width="1"/>
<text x="201.50" y="668.50" font-size="5.28" font-weight="bold" stroke="#000" stroke-width="0.45" textLength="2.20" lengthAdjust="spacingAndGlyphs" text-anchor="end">0</text>
<line x1="204.50" y1="667.30" x2="206.50" y2="667.30" stroke="#222" stroke-width="0.8"/>
<text x="201.50" y="651.60" font-size="5.28" font-weight="bold" stroke="#000" stroke-width="0.45" textLength="4.40" lengthAdjust="spacingAndGlyphs" text-anchor="end">50</text>
<line x1="204.50" y1="650.40" x2="206.50" y2="650.40" stroke="#222" stroke-width="0.8"/>
<text x="201.50" y="634.70" font-size="5.28" font-weight="bold" stroke="#000" stroke-width="0.45" textLength="6.60" lengthAdjust="spacingAndGlyphs" text-anchor="end">100</text>
<line x1="204.50" y1="633.50" x2="206.50" y2="633.50" stroke="#222" stroke-width="0.8"/>
<text x="201.50" y="617.80" font-size="5.28" font-weight="bold" stroke="#000" stroke-width="0.45" textLength="6.60" lengthAdjust="spacingAndGlyphs" text-anchor="end">150</text>
<line x1="204.50" y1="616.60" x2="206.50" y2="616.60" stroke="#222" stroke-width="0.8"/>
<text x="201.50" y="600.90" font-size="5.28" font-weight="bold" stroke="#000" stroke-width="0.45" textLength="6.60" lengthAdjust="spacingAndGlyphs" text-anchor="end">200</text>
<line x1="204.50" y1="599.70" x2="206.50" y2="599.70" stroke="#222" stroke-width="0.8"/>
<text x="201.50" y="584.00" font-size="5.28" font-weight="bold" stroke="#000" stroke-width="0.45" textLength="6.60" lengthAdjust="spacingAndGlyphs" text-anchor="end">250</text>
<line x1="204.50" y1="582.80" x2="206.50" y2="582.80" stroke="#222" stroke-width="0.8"/>
<text x="201.50" y="567.10" font-size="5.28" font-weight="bold" stroke="#000" stroke-width="0.45" textLength="6.60" lengthAdjust="spacingAndGlyphs" text-anchor="end">300</text>
<line x1="204.50" y1="565.90" x2="206.50" y2="565.90" stroke="#222" stroke-width="0.8"/>
<text x="213.40" y="559.20" font-size="8.25" font-weight="bold" stroke="#000" stroke-width="0.45" textLength="18.00" lengthAdjust="spacingAndGlyphs">MCP1</text>
<line x1="216.60" y1="631.80" x2="216.60" y2="633.50" stroke="#7c7c7c" stroke-width="0.9"/>
<line x1="215.60" y1="632.10" x2="217.60" y2="632.10" stroke="#444" stroke-width="0.9"/>
<line x1="226.40" y1="628.80" x2="226.40" y2="633.50" stroke="#7c7c7c" stroke-width="0.9"/>
<line x1="225.40" y1="629.10" x2="227.40" y2="629.10" stroke="#444" stroke-width="0.9"/>
<rect x="211.70" y="633.50" width="9.80" height="33.80" fill="#878787"/>
<rect x="221.50" y="633.50" width="9.80" height="33.80" fill="#000"/>
<line x1="249.60" y1="626.30" x2="249.60" y2="629.11" stroke="#7c7c7c" stroke-width="0.9"/>
<line x1="248.60" y1="626.60" x2="250.60" y2="626.60" stroke="#444" stroke-width="0.9"/>
<line x1="259.40" y1="619.50" x2="259.40" y2="620.99" stroke="#7c7c7c" stroke-width="0.9"/>
<line x1="258.40" y1="619.80" x2="260.40" y2="619.80" stroke="#444" stroke-width="0.9"/>
<rect x="244.70" y="629.11" width="9.80" height="38.19" fill="#878787"/>
<rect x="254.50" y="620.99" width="9.80" height="46.31" fill="#000"/>
<text x="259.40" y="617.30" font-size="9.46" font-weight="bold" stroke="#000" stroke-width="0.45" textLength="4.60" lengthAdjust="spacingAndGlyphs" text-anchor="middle">*</text>
<line x1="282.80" y1="611.00" x2="282.80" y2="617.28" stroke="#7c7c7c" stroke-width="0.9"/>
<line x1="281.80" y1="611.30" x2="283.80" y2="611.30" stroke="#444" stroke-width="0.9"/>
<line x1="292.60" y1="605.50" x2="292.60" y2="610.52" stroke="#7c7c7c" stroke-width="0.9"/>
<line x1="291.60" y1="605.80" x2="293.60" y2="605.80" stroke="#444" stroke-width="0.9"/>
<rect x="277.90" y="617.28" width="9.80" height="50.02" fill="#878787"/>
<rect x="287.70" y="610.52" width="9.80" height="56.78" fill="#000"/>
<text x="292.30" y="606.00" font-size="9.46" font-weight="bold" stroke="#000" stroke-width="0.45" textLength="4.60" lengthAdjust="spacingAndGlyphs" text-anchor="middle">*</text>
<line x1="315.80" y1="597.00" x2="315.80" y2="603.08" stroke="#7c7c7c" stroke-width="0.9"/>
<line x1="314.80" y1="597.30" x2="316.80" y2="597.30" stroke="#444" stroke-width="0.9"/>
<line x1="325.60" y1="576.30" x2="325.60" y2="586.18" stroke="#7c7c7c" stroke-width="0.9"/>
<line x1="324.60" y1="576.60" x2="326.60" y2="576.60" stroke="#444" stroke-width="0.9"/>
<rect x="310.90" y="603.08" width="9.80" height="64.22" fill="#878787"/>
<rect x="320.70" y="586.18" width="9.80" height="81.12" fill="#000"/>
<text x="315.40" y="593.60" font-size="9.46" font-weight="bold" stroke="#000" stroke-width="0.45" textLength="4.60" lengthAdjust="spacingAndGlyphs" text-anchor="middle">*</text>
<text x="325.20" y="577.00" font-size="9.46" font-weight="bold" stroke="#000" stroke-width="0.45" textLength="4.60" lengthAdjust="spacingAndGlyphs" text-anchor="middle">*</text>
<text x="210.80" y="682.10" font-size="9.35" font-weight="bold" stroke="#000" stroke-width="0.45" textLength="18.40" lengthAdjust="spacingAndGlyphs">siCTR</text>
<text x="243.00" y="682.30" font-size="9.35" font-weight="bold" stroke="#000" stroke-width="0.45" textLength="23.00" lengthAdjust="spacingAndGlyphs">siProx1</text>
<text x="277.00" y="681.30" font-size="9.35" font-weight="bold" stroke="#000" stroke-width="0.45" textLength="23.60" lengthAdjust="spacingAndGlyphs">siCOUP</text>
<text x="310.80" y="680.80" font-size="9.35" font-weight="bold" stroke="#000" stroke-width="0.45" textLength="20.00" lengthAdjust="spacingAndGlyphs">siBoth</text>
<rect x="351.30" y="549.20" width="116.10" height="21.60" fill="#0a0a0a"/>
<rect x="351.30" y="573.00" width="116.10" height="21.60" fill="#0a0a0a"/>
<rect x="351.30" y="596.80" width="116.10" height="21.80" fill="#0a0a0a"/>
<rect x="351.30" y="620.80" width="116.10" height="21.20" fill="#0a0a0a"/>
<rect x="351.30" y="644.20" width="116.10" height="21.60" fill="#0a0a0a"/>
<ellipse cx="366.5" cy="560.8" rx="11.5" ry="2.4" fill="#fff" opacity="0.28" filter="url(#b3)"/>
<path d="M355.8 560.8 C358.8 559.2 362.5 559.5 366.5 559.5 C370.5 559.5 374.2 559.2 377.2 560.8 C374.2 562.4 370.5 562.1 366.5 562.1 C362.5 562.1 358.8 562.4 355.8 560.8Z" fill="#fff" opacity="1" filter="url(#b2)"/>
<ellipse cx="394.9" cy="561.0" rx="11.4" ry="2.1" fill="#fff" opacity="0.07" filter="url(#b3)"/>
<path d="M384.3 561.0 C387.3 559.8 390.9 560.0 394.9 560.0 C398.9 560.0 402.5 559.8 405.5 561.0 C402.5 562.2 398.9 562.0 394.9 562.0 C390.9 562.0 387.3 562.2 384.3 561.0Z" fill="#fff" opacity="0.26" filter="url(#b2)"/>
<ellipse cx="423.2" cy="560.2" rx="11.4" ry="2.4" fill="#fff" opacity="0.28" filter="url(#b3)"/>
<path d="M412.6 560.2 C415.6 558.6 419.2 558.9 423.2 558.9 C427.2 558.9 430.9 558.6 433.9 560.2 C430.9 561.8 427.2 561.5 423.2 561.5 C419.2 561.5 415.6 561.8 412.6 560.2Z" fill="#fff" opacity="1" filter="url(#b2)"/>
<ellipse cx="451.5" cy="561.0" rx="11.5" ry="2.1" fill="#fff" opacity="0.09" filter="url(#b3)"/>
<path d="M440.8 561.0 C443.8 559.8 447.5 560.0 451.5 560.0 C455.5 560.0 459.2 559.8 462.2 561.0 C459.2 562.2 455.5 562.0 451.5 562.0 C447.5 562.0 443.8 562.2 440.8 561.0Z" fill="#fff" opacity="0.32" filter="url(#b2)"/>
<ellipse cx="366.5" cy="584.4" rx="11.5" ry="2.4" fill="#fff" opacity="0.28" filter="url(#b3)"/>
<path d="M355.8 584.4 C358.8 582.8 362.5 583.1 366.5 583.1 C370.5 583.1 374.2 582.8 377.2 584.4 C374.2 586.0 370.5 585.7 366.5 585.7 C362.5 585.7 358.8 586.0 355.8 584.4Z" fill="#fff" opacity="1" filter="url(#b2)"/>
<ellipse cx="394.9" cy="584.0" rx="11.4" ry="2.4" fill="#fff" opacity="0.25" filter="url(#b3)"/>
<path d="M384.3 584.0 C387.3 582.4 390.9 582.7 394.9 582.7 C398.9 582.7 402.5 582.4 405.5 584.0 C402.5 585.6 398.9 585.3 394.9 585.3 C390.9 585.3 387.3 585.6 384.3 584.0Z" fill="#fff" opacity="0.9" filter="url(#b2)"/>
<ellipse cx="423.2" cy="584.0" rx="11.4" ry="2.0" fill="#fff" opacity="0.03" filter="url(#b3)"/>
<path d="M412.6 584.0 C415.6 582.9 419.2 583.1 423.2 583.1 C427.2 583.1 430.9 582.9 433.9 584.0 C430.9 585.1 427.2 584.9 423.2 584.9 C419.2 584.9 415.6 585.1 412.6 584.0Z" fill="#fff" opacity="0.09" filter="url(#b2)"/>
<ellipse cx="451.5" cy="584.0" rx="11.5" ry="2.0" fill="#fff" opacity="0.01" filter="url(#b3)"/>
<path d="M440.8 584.0 C443.8 582.9 447.5 583.1 451.5 583.1 C455.5 583.1 459.2 582.9 462.2 584.0 C459.2 585.1 455.5 584.9 451.5 584.9 C447.5 584.9 443.8 585.1 440.8 584.0Z" fill="#fff" opacity="0.05" filter="url(#b2)"/>
<ellipse cx="366.5" cy="607.0" rx="11.5" ry="2.4" fill="#fff" opacity="0.28" filter="url(#b3)"/>
<path d="M355.8 607.0 C358.8 605.4 362.5 605.7 366.5 605.7 C370.5 605.7 374.2 605.4 377.2 607.0 C374.2 608.6 370.5 608.3 366.5 608.3 C362.5 608.3 358.8 608.6 355.8 607.0Z" fill="#fff" opacity="1" filter="url(#b2)"/>
<ellipse cx="394.9" cy="609.0" rx="11.4" ry="2.1" fill="#fff" opacity="0.04" filter="url(#b3)"/>
<path d="M384.3 609.0 C387.3 607.8 390.9 608.0 394.9 608.0 C398.9 608.0 402.5 607.8 405.5 609.0 C402.5 610.2 398.9 610.0 394.9 610.0 C390.9 610.0 387.3 610.2 384.3 609.0Z" fill="#fff" opacity="0.16" filter="url(#b2)"/>
<ellipse cx="423.2" cy="607.6" rx="11.4" ry="2.4" fill="#fff" opacity="0.28" filter="url(#b3)"/>
<path d="M412.6 607.6 C415.6 606.0 419.2 606.3 423.2 606.3 C427.2 606.3 430.9 606.0 433.9 607.6 C430.9 609.2 427.2 608.9 423.2 608.9 C419.2 608.9 415.6 609.2 412.6 607.6Z" fill="#fff" opacity="1" filter="url(#b2)"/>
<ellipse cx="366.5" cy="633.0" rx="11.5" ry="1.9" fill="#fff" opacity="0.20" filter="url(#b3)"/>
<path d="M355.8 633.0 C358.8 632.0 362.5 632.2 366.5 632.2 C370.5 632.2 374.2 632.0 377.2 633.0 C374.2 634.0 370.5 633.8 366.5 633.8 C362.5 633.8 358.8 634.0 355.8 633.0Z" fill="#fff" opacity="0.7" filter="url(#b2)"/>
<ellipse cx="394.9" cy="633.0" rx="11.4" ry="2.2" fill="#fff" opacity="0.27" filter="url(#b3)"/>
<path d="M384.3 633.0 C387.3 631.6 390.9 631.9 394.9 631.9 C398.9 631.9 402.5 631.6 405.5 633.0 C402.5 634.4 398.9 634.1 394.9 634.1 C390.9 634.1 387.3 634.4 384.3 633.0Z" fill="#fff" opacity="0.95" filter="url(#b2)"/>
<ellipse cx="423.2" cy="633.0" rx="11.4" ry="2.2" fill="#fff" opacity="0.27" filter="url(#b3)"/>
<path d="M412.6 633.0 C415.6 631.6 419.2 631.9 423.2 631.9 C427.2 631.9 430.9 631.6 433.9 633.0 C430.9 634.4 427.2 634.1 423.2 634.1 C419.2 634.1 415.6 634.4 412.6 633.0Z" fill="#fff" opacity="0.95" filter="url(#b2)"/>
<ellipse cx="451.5" cy="632.6" rx="11.5" ry="2.4" fill="#fff" opacity="0.28" filter="url(#b3)"/>
<path d="M440.8 632.6 C443.8 631.0 447.5 631.3 451.5 631.3 C455.5 631.3 459.2 631.0 462.2 632.6 C459.2 634.2 455.5 633.9 451.5 633.9 C447.5 633.9 443.8 634.2 440.8 632.6Z" fill="#fff" opacity="1" filter="url(#b2)"/>
<ellipse cx="366.5" cy="655.6" rx="11.5" ry="2.6" fill="#fff" opacity="0.28" filter="url(#b3)"/>
<path d="M355.8 655.6 C358.8 653.7 362.5 654.1 366.5 654.1 C370.5 654.1 374.2 653.7 377.2 655.6 C374.2 657.5 370.5 657.1 366.5 657.1 C362.5 657.1 358.8 657.5 355.8 655.6Z" fill="#fff" opacity="1" filter="url(#b2)"/>
<ellipse cx="394.9" cy="655.4" rx="11.4" ry="2.5" fill="#fff" opacity="0.27" filter="url(#b3)"/>
<path d="M384.3 655.4 C387.3 653.6 390.9 654.0 394.9 654.0 C398.9 654.0 402.5 653.6 405.5 655.4 C402.5 657.1 398.9 656.8 394.9 656.8 C390.9 656.8 387.3 657.1 384.3 655.4Z" fill="#fff" opacity="0.95" filter="url(#b2)"/>
<ellipse cx="423.2" cy="655.2" rx="11.4" ry="2.5" fill="#fff" opacity="0.28" filter="url(#b3)"/>
<path d="M412.6 655.2 C415.6 653.5 419.2 653.8 423.2 653.8 C427.2 653.8 430.9 653.5 433.9 655.2 C430.9 657.0 427.2 656.6 423.2 656.6 C419.2 656.6 415.6 657.0 412.6 655.2Z" fill="#fff" opacity="1" filter="url(#b2)"/>
<ellipse cx="451.5" cy="655.0" rx="11.5" ry="2.5" fill="#fff" opacity="0.28" filter="url(#b3)"/>
<path d="M440.8 655.0 C443.8 653.2 447.5 653.6 451.5 653.6 C455.5 653.6 459.2 653.2 462.2 655.0 C459.2 656.8 455.5 656.4 451.5 656.4 C447.5 656.4 443.8 656.8 440.8 655.0Z" fill="#fff" opacity="1" filter="url(#b2)"/>
<text x="472.30" y="564.30" font-size="10.4" textLength="25.70" lengthAdjust="spacingAndGlyphs" stroke="#000" stroke-width="0.55">Prox1</text>
<text x="471.20" y="589.20" font-size="10.4" textLength="47.40" lengthAdjust="spacingAndGlyphs" stroke="#000" stroke-width="0.55">COUP-TFII</text>
<text x="471.60" y="613.30" font-size="10.4" textLength="32.40" lengthAdjust="spacingAndGlyphs" stroke="#000" stroke-width="0.55">ABCA4</text>
<text x="472.30" y="636.30" font-size="10.4" textLength="38.80" lengthAdjust="spacingAndGlyphs" stroke="#000" stroke-width="0.55">Versican</text>
<text x="473.60" y="660.20" font-size="10.4" textLength="32.80" lengthAdjust="spacingAndGlyphs" stroke="#000" stroke-width="0.55">B-actin</text>
<text x="353.80" y="680.90" font-size="8.14" font-weight="bold" stroke="#000" stroke-width="0.45" textLength="18.10" lengthAdjust="spacingAndGlyphs">siCTR</text>
<text x="383.00" y="681.40" font-size="8.14" font-weight="bold" stroke="#000" stroke-width="0.45" textLength="22.80" lengthAdjust="spacingAndGlyphs">siProx1</text>
<text x="413.00" y="680.00" font-size="8.14" font-weight="bold" stroke="#000" stroke-width="0.45" textLength="24.20" lengthAdjust="spacingAndGlyphs">siCOUP</text>
<text x="445.00" y="679.50" font-size="8.14" font-weight="bold" stroke="#000" stroke-width="0.45" textLength="19.60" lengthAdjust="spacingAndGlyphs">siBoth</text>
</g>
</svg>
</body></html>
